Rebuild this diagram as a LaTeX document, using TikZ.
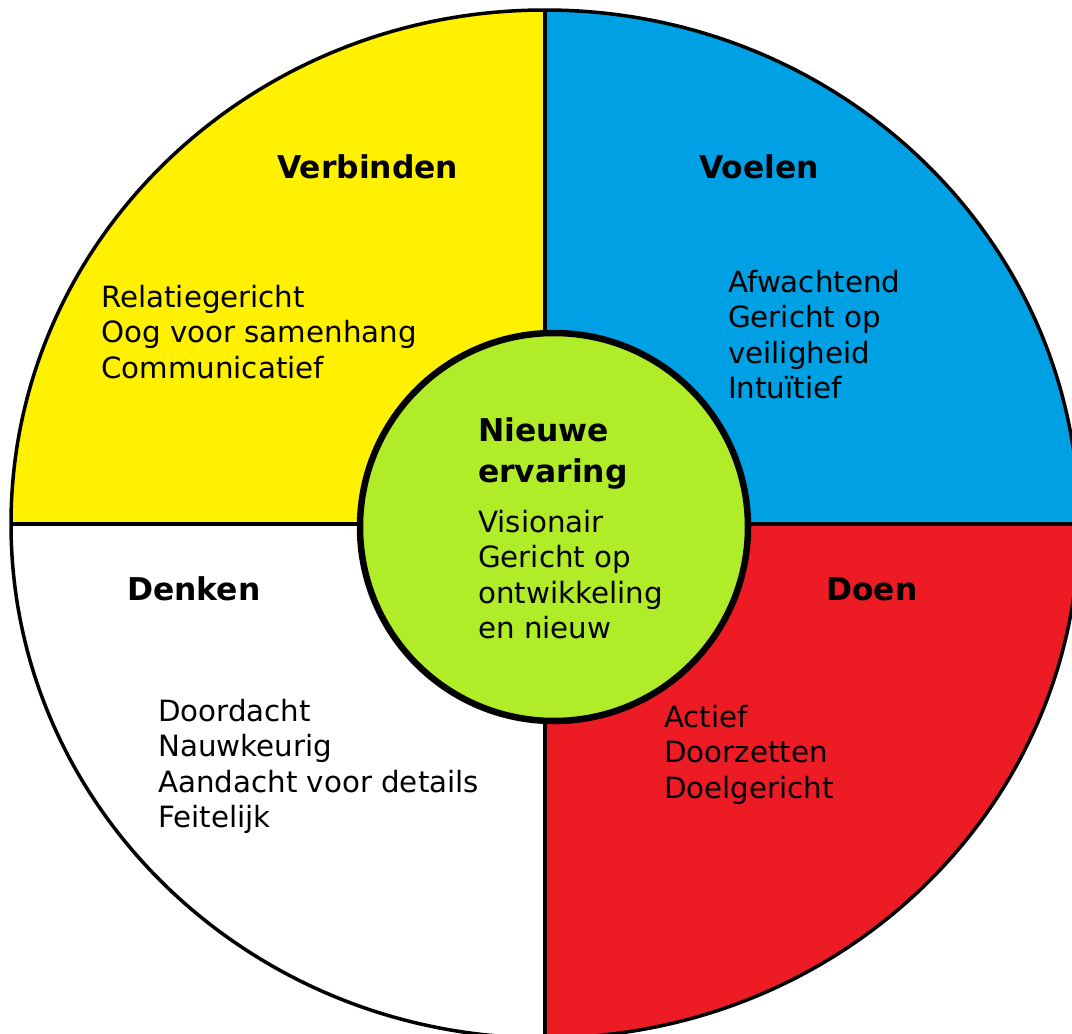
\documentclass[tikz,border=0pt]{standalone}
\usepackage{fontspec}
\setmainfont{DejaVu Sans}
\definecolor{quadyellow}{RGB}{255,241,0}
\definecolor{quadblue}{RGB}{0,161,228}
\definecolor{quadred}{RGB}{237,28,36}
\definecolor{centregreen}{RGB}{176,237,40}
\begin{document}
\begin{tikzpicture}[x=1pt,y=-1pt,
  % multi-line nodes are anchored on the baseline of their last line
  heading/.style={anchor=base west, inner sep=0pt, align=left,
    font=\fontsize{31.4}{41}\selectfont\bfseries},
  body/.style={anchor=base west, inner sep=0pt, align=left,
    font=\fontsize{29.3}{35.5}\selectfont},
  rim/.style={line width=3.5pt, draw=black},
  hub/.style={circle, draw=black, line width=6.5pt, fill=centregreen,
    minimum size=388pt, inner sep=0pt}]

% canvas
\path[use as bounding box, clip] (0,0) rectangle (1072,1034);
\fill[white] (0,0) rectangle (1072,1034);

\coordinate (O) at (545,524);
\coordinate (C) at (554,527);

% four quadrants of the outer wheel
\begin{scope}
  \clip (O) ellipse [x radius=534, y radius=514];
  \fill[quadyellow] (O) rectangle (0,0);
  \fill[quadblue]   (O) rectangle (1100,0);
  \fill[quadred]    (O) rectangle (1100,1100);
  \fill[white]      (O) rectangle (0,1100);
  \draw[rim] (545,0) -- (545,1100);
  \draw[rim] (0,524) -- (1100,524);
\end{scope}
\draw[rim] (O) ellipse [x radius=534, y radius=514];

% hub
\node[hub] (hub) at (C) {};

% quadrant titles
\node[heading] (verbinden) at (277,178) {Verbinden};
\node[heading] (voelen)    at (699,178) {Voelen};
\node[heading] (denken)    at (127,600) {Denken};
\node[heading] (doen)      at (826,600) {Doen};

% quadrant descriptions
\node[body] (verbinden-list) at (101,378) {Relatiegericht\\Oog voor samenhang\\Communicatief};
\node[body] (voelen-list)    at (728,398.5) {Afwachtend\\Gericht op\\veiligheid\\Intuïtief};
\node[body] (denken-list)    at (158,827.5) {Doordacht\\Nauwkeurig\\Aandacht voor details\\Feitelijk};
\node[body] (doen-list)      at (664,798) {Actief\\Doorzetten\\Doelgericht};

% hub text
\node[heading] (hub-title) at (478,482) {Nieuwe\\ervaring};
\node[body]    (hub-list)  at (478,638.5) {Visionair\\Gericht op\\ontwikkeling\\en nieuw};
\end{tikzpicture}
\end{document}
